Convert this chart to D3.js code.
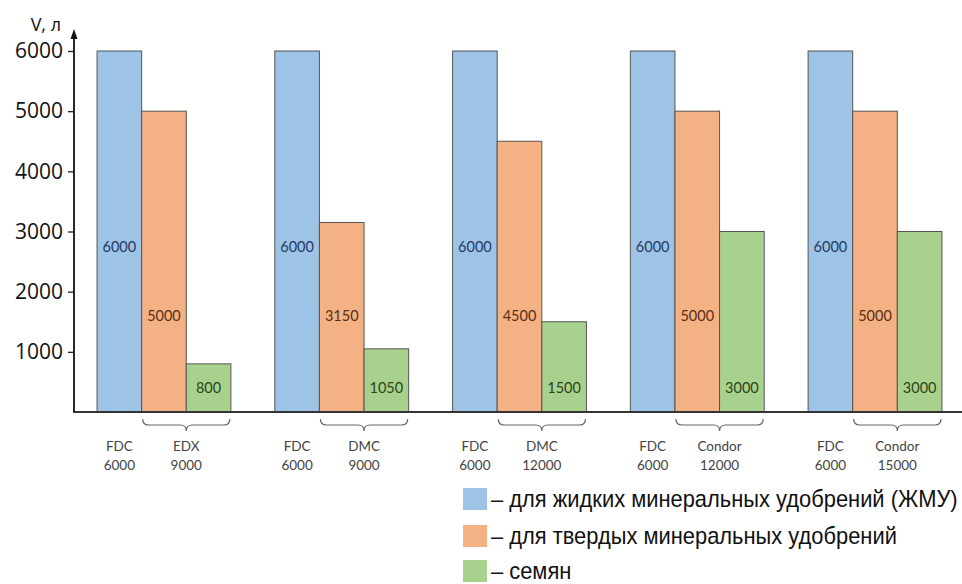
<!DOCTYPE html>
<html><head><meta charset="utf-8">
<script src="https://cdn.jsdelivr.net/npm/d3@7"></script>
<style>
html,body{margin:0;padding:0;background:#fff;}
svg{display:block;}
</style></head>
<body>
<svg id="chart" width="962" height="584"></svg>
<script>
// ---- data ----
const groups = ["G1", "G2", "G3", "G4", "G5"];
const seriesKeys = ["liquid", "solid", "seeds"];
const liquidValues = [6000, 6000, 6000, 6000, 6000];
const solidValues = [5000, 3150, 4500, 5000, 5000];
const seedValues = [800, 1050, 1500, 3000, 3000];
const machine1Names = ["FDC", "FDC", "FDC", "FDC", "FDC"];
const machine1Volumes = ["6000", "6000", "6000", "6000", "6000"];
const machine2Names = ["EDX", "DMC", "DMC", "Condor", "Condor"];
const machine2Volumes = ["9000", "9000", "12000", "12000", "15000"];
const yTicks = [1000, 2000, 3000, 4000, 5000, 6000];
const yAxisLabel = "V, л";
const legendLabels = ["– для жидких минеральных удобрений (ЖМУ)", "– для твердых минеральных удобрений", "– семян"];
const colors = {liquid: "#9dc3e6", solid: "#f4b183", seeds: "#a9d18e"};
const labelColors = {liquid: "#243b5e", solid: "#5a2e12", seeds: "#2c4419"};

const svg = d3.select("#chart");
const x = d3.scaleBand().domain(groups).range([75, 964]).paddingInner(0.247).paddingOuter(0.124);
const xs = d3.scaleBand().domain(seriesKeys).range([0, x.bandwidth()]).padding(0);
const y = d3.scaleLinear().domain([0, 6000]).range([412, 51]);

const rows = groups.map((g, i) => ({g, i, liquid: liquidValues[i], solid: solidValues[i], seeds: seedValues[i]}));

// bars
const gg = svg.append("g").selectAll("g").data(rows).join("g")
  .attr("transform", d => `translate(${x(d.g)},0)`);
gg.selectAll("rect").data(d => seriesKeys.map(k => ({k, v: d[k]}))).join("rect")
  .attr("x", d => xs(d.k))
  .attr("width", xs.bandwidth())
  .attr("y", d => y(d.v))
  .attr("height", d => y(0) - y(d.v))
  .attr("fill", d => colors[d.k])
  .attr("stroke", "#555")
  .attr("stroke-width", 1);

// value labels in bars (fixed heights like original)
const labelLevels = {liquid: 2750, solid: 1600, seeds: 400};
gg.selectAll("text.val").data(d => seriesKeys.map(k => ({k, v: d[k]}))).join("text")
  .attr("class", "val")
  .attr("x", d => xs(d.k) + xs.bandwidth() / 2)
  .attr("y", d => y(labelLevels[d.k]))
  .attr("dy", "0.35em")
  .attr("text-anchor", "middle")
  .attr("font-family", "Lato, 'Open Sans', sans-serif")
  .attr("font-size", 14.5)
  .attr("fill", d => labelColors[d.k])
  .text(d => d.v);

// brackets + category labels
const bracket = svg.append("g");
rows.forEach(d => {
  const x1 = x(d.g) + xs("solid") + 1, x2 = x(d.g) + xs("seeds") + xs.bandwidth() - 1;
  const cx = (x1 + x2) / 2, top = 419, mid = 425, tip = 431;
  bracket.append("path")
    .attr("d", `M${x1},${top} Q${x1},${mid} ${x1+6},${mid} L${cx-6},${mid} Q${cx},${mid} ${cx},${tip} Q${cx},${mid} ${cx+6},${mid} L${x2-6},${mid} Q${x2},${mid} ${x2},${top}`)
    .attr("fill", "none").attr("stroke", "#666").attr("stroke-width", 1.2);
  const c1 = x(d.g) + xs("liquid") + xs.bandwidth() / 2;
  const t = svg.append("g").attr("font-family", "Lato, 'Open Sans', sans-serif").attr("font-size", 13.5).attr("fill", "#444").attr("text-anchor", "middle");
  t.append("text").attr("x", c1).attr("y", 451).text(machine1Names[d.i]);
  t.append("text").attr("x", c1).attr("y", 470).text(machine1Volumes[d.i]);
  t.append("text").attr("x", cx).attr("y", 451).text(machine2Names[d.i]);
  t.append("text").attr("x", cx).attr("y", 470).text(machine2Volumes[d.i]);
});

// x axis line
svg.append("line").attr("x1", 73).attr("x2", 962).attr("y1", y(0)).attr("y2", y(0))
  .attr("stroke", "#333").attr("stroke-width", 2);

// y axis
const yAxis = svg.append("g").attr("transform", "translate(74,0)")
  .call(d3.axisLeft(y).tickValues(yTicks).tickSize(6).tickPadding(5).tickFormat(d3.format("d")));
yAxis.select(".domain").remove();
yAxis.selectAll(".tick line").attr("stroke", "#222").attr("stroke-width", 1.3);
yAxis.selectAll(".tick text").attr("font-family", "'Open Sans', 'Liberation Sans', Arial, sans-serif").attr("font-size", 21).attr("fill", "#111");
svg.append("line").attr("x1", 74).attr("x2", 74).attr("y1", y(0)).attr("y2", 36)
  .attr("stroke", "#111").attr("stroke-width", 1.8);
svg.append("path").attr("d", "M74,29 L70.5,39 L77.5,39 Z").attr("fill", "#111");
svg.append("text").attr("x", 61).attr("y", 31).attr("text-anchor", "end")
  .attr("font-family", "'Open Sans', 'Liberation Sans', Arial, sans-serif").attr("font-size", 18).attr("fill", "#111")
  .text(yAxisLabel);

// legend
const leg = svg.append("g");
const legY = [499, 536, 571];
seriesKeys.forEach((k, i) => {
  leg.append("rect").attr("x", 463).attr("y", legY[i] - 11).attr("width", 24).attr("height", 22).attr("fill", colors[k]);
});
const legTexts = seriesKeys.map((k, i) => leg.append("text").attr("x", 0).attr("y", 0)
  .attr("dy", "0.35em")
  .attr("font-family", "'Liberation Sans Narrow', 'Arial Narrow', 'Liberation Sans', Arial, sans-serif")
  .attr("font-size", 23).attr("fill", "#111").text(legendLabels[i]));
const w0 = legTexts[0].node().getComputedTextLength();
const sx = Math.min(1, 467 / w0);
legTexts.forEach((t, i) => t.attr("transform", `translate(491,${legY[i]}) scale(${sx},1)`));
</script>
</body></html>
